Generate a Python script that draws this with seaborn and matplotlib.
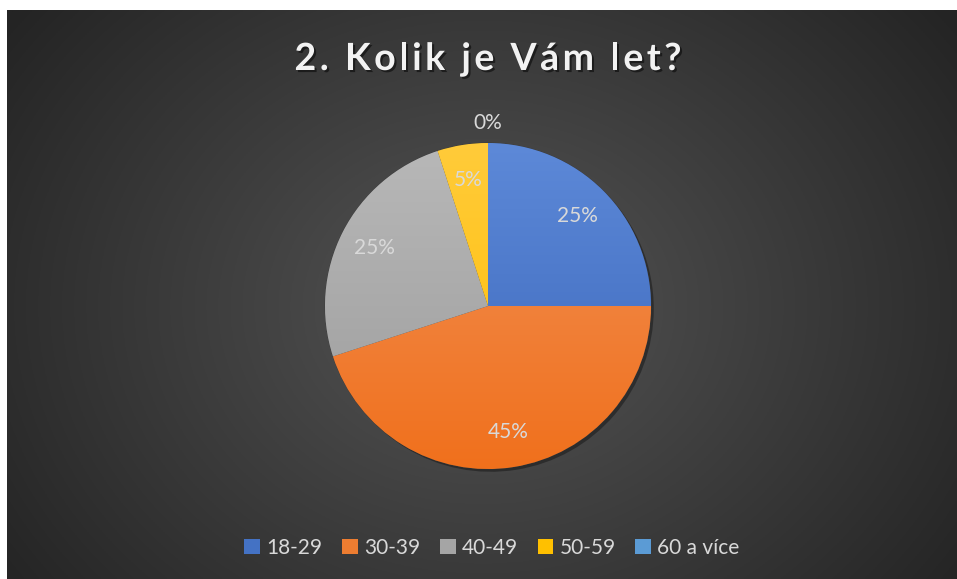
import numpy as np
import matplotlib
matplotlib.use("Agg")
import matplotlib.pyplot as plt
import matplotlib.colors as mcolors
import matplotlib.patheffects as pe
from matplotlib.patches import Patch
import seaborn as sns

# ---- data ----
categories = ["18-29", "30-39", "40-49", "50-59", "60 a více"]
values = [25, 45, 25, 5, 0]
pct_labels = ["25%", "45%", "25%", "5%", "0%"]
title = "2. Kolik je Vám let?"

sns.set_theme(style="dark")
plt.rcParams["font.family"] = ["Lato", "DejaVu Sans"]

palette = sns.color_palette(["#4472C4", "#ED7D31", "#A5A5A5", "#FFC000", "#5B9BD5"])
grad_top = ["#5D89D8", "#F29259", "#B8B8B8", "#FFCB3A", "#6FA8DC"]
grad_bot = ["#3A66BA", "#F0701C", "#9C9C9C", "#FFBE00", "#4D8FCC"]

W, H = 957, 579
fig = plt.figure(figsize=(W / 100, H / 100), dpi=100)
fig.patch.set_facecolor("white")

# background panel with radial gradient
bg = fig.add_axes([7 / W, 0, (W - 7) / W, (H - 10) / H])
bg.set_axis_off()
ny, nx = 300, 500
yy, xx = np.mgrid[0:ny, 0:nx]
cx, cy = nx * 0.5, ny * 0.52
d = np.sqrt(((xx - cx) / (nx * 0.62)) ** 2 + ((yy - cy) / (ny * 0.85)) ** 2)
d = np.clip(d, 0, 1)
inner = np.array(mcolors.to_rgb("#555555"))
outer = np.array(mcolors.to_rgb("#242424"))
img = inner[None, None, :] * (1 - d[..., None]) + outer[None, None, :] * d[..., None]
bg.imshow(img, aspect="auto", extent=[0, 1, 0, 1])
bg.set_xlim(0, 1)
bg.set_ylim(0, 1)

# pie axes
R = 163
cxp, cyp = 488, 306
half = R * 1.2
ax = fig.add_axes([(cxp - half) / W, (H - cyp - half) / H, 2 * half / W, 2 * half / H])
ax.set_axis_off()

wedges, texts, autotexts = ax.pie(
    values,
    colors=palette,
    startangle=90,
    counterclock=False,
    autopct="%1.0f%%",
    pctdistance=0.78,
    wedgeprops=dict(edgecolor="#3a3a3a", linewidth=0.5),
    textprops=dict(color="#D9D9D9", fontsize=15),
)
for w in wedges:
    w.set_path_effects([pe.SimplePatchShadow(offset=(2, -2), shadow_rgbFace="black", alpha=0.35),
                        pe.Normal()])

for w, top, bot in zip(wedges, grad_top, grad_bot):
    if w.theta1 == w.theta2:
        continue
    a = np.array(mcolors.to_rgb(top))
    b = np.array(mcolors.to_rgb(bot))
    g = np.linspace(0, 1, 256)[:, None, None]
    grad = a[None, None, :] * (1 - g) + b[None, None, :] * g
    grad = np.repeat(grad, 2, axis=1)
    im = ax.imshow(grad, extent=[-1, 1, -1, 1], aspect="auto", zorder=w.get_zorder() + 0.1)
    im.set_clip_path(w)
ax.set_xlim(-1.2, 1.2)
ax.set_ylim(-1.2, 1.2)

for t, lab, v in zip(autotexts, pct_labels, values):
    t.set_text(lab)
    t.set_zorder(10)
    if v == 0:
        t.set_position((0, 1.12))

# title with letter spacing
renderer = fig.canvas.get_renderer()
tfs = 27
def _w(s):
    tt = fig.text(0, 0, s + "l", fontsize=tfs, fontweight="bold")
    wl = tt.get_window_extent(renderer).width
    tt.remove()
    tl = fig.text(0, 0, "l", fontsize=tfs, fontweight="bold")
    w1 = tl.get_window_extent(renderer).width
    tl.remove()
    return wl - w1
offsets = [_w(title[:i]) for i in range(len(title) + 1)]
natural = offsets[-1]
target_w = 387
spacing = (target_w - natural) / (len(title) - 1)
x0 = 488 - target_w / 2
for i, ch in enumerate(title):
    if ch == " ":
        continue
    fig.text((x0 + offsets[i] + i * spacing) / W, 1 - 70 / H, ch, ha="left", va="baseline",
             fontsize=tfs, fontweight="bold", color="#F2F2F2",
             path_effects=[pe.SimplePatchShadow(offset=(1.5, -1.5), shadow_rgbFace="black", alpha=0.5),
                           pe.Normal()])

# legend
handles = [Patch(facecolor=c, edgecolor="none") for c in palette]
leg = fig.legend(handles, categories, loc="center", bbox_to_anchor=(492 / W, 1 - 548 / H),
                 ncol=5, frameon=False, fontsize=15, handlelength=0.75, handleheight=0.75,
                 handletextpad=0.3, columnspacing=0.95)
for t in leg.get_texts():
    t.set_color("#D9D9D9")

fig.savefig("out.png", dpi=100, facecolor=fig.get_facecolor())
